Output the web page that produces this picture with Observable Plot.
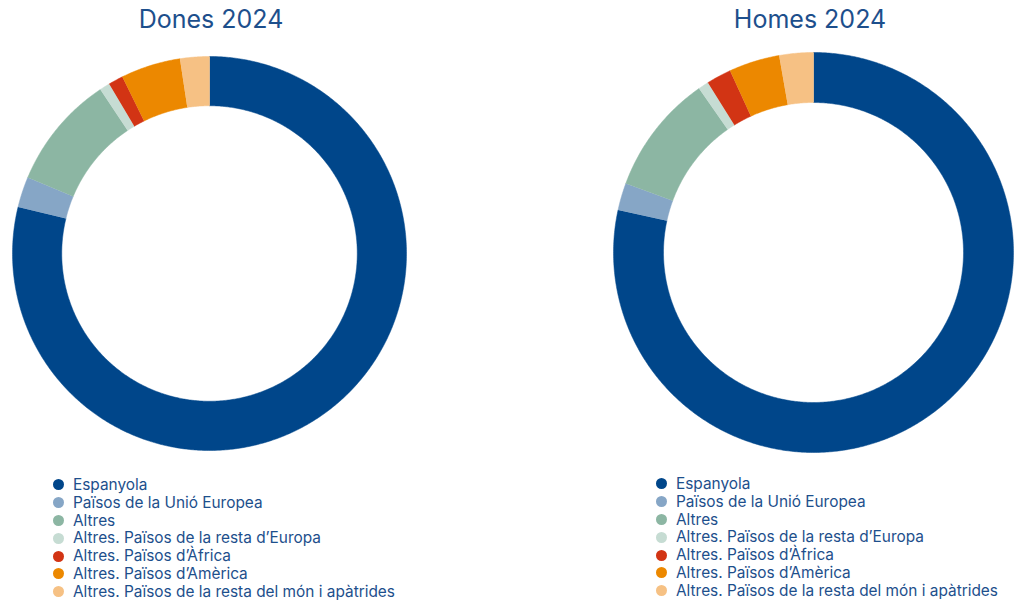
<!DOCTYPE html>
<html>
<head>
<meta charset="utf-8">
<script src="https://cdn.jsdelivr.net/npm/d3@7"></script>
<script src="https://cdn.jsdelivr.net/npm/@observablehq/plot@0.6"></script>
<style>
  html, body { margin: 0; padding: 0; background: #fff; }
  #root { position: relative; width: 1024px; height: 600px; overflow: hidden; font-family: Inter, "Noto Sans", sans-serif; color: #1d4f8c; }
  .title { position: absolute; top: 4px; width: 400px; text-align: center; font-size: 25px; font-weight: 400; color: #1d4f8c; }
  .chart { position: absolute; }
  .legend { position: absolute; font-size: 15.4px; line-height: 17.8px; color: #1d4f8c; }
  .legend div { display: flex; align-items: center; white-space: nowrap; }
  .legend span.dot { display: inline-block; width: 11px; height: 11px; border-radius: 50%; margin-right: 9px; }
</style>
</head>
<body>
<div id="root"></div>
<script>
// ---- data ----
const categories = [
  "Espanyola",
  "Països de la Unió Europea",
  "Altres",
  "Altres. Països de la resta d’Europa",
  "Altres. Països d’Àfrica",
  "Altres. Països d’Amèrica",
  "Altres. Països de la resta del món i apàtrides"
];
const colors = ["#00468a", "#86a6c6", "#8cb6a3", "#c6dcd3", "#d23414", "#ec8800", "#f6c184"];
const titles = ["Dones 2024", "Homes 2024"];
const dones2024 = [78.8, 2.5, 9.35, 0.85, 1.2, 4.9, 2.4];
const homes2024 = [78.4, 2.2, 9.7, 0.85, 2.0, 4.1, 2.75];

// ---- build ring polygons (angle clockwise from 12 o'clock) ----
function ringRows(values, inner) {
  const total = d3.sum(values);
  const rows = [];
  let start = 0;
  values.forEach((v, i) => {
    const a0 = start / total * 2 * Math.PI;
    const a1 = (start + v) / total * 2 * Math.PI;
    const n = Math.max(2, Math.ceil((a1 - a0) / (Math.PI / 360)));
    const pts = [];
    for (let k = 0; k <= n; k++) { const a = a0 + (a1 - a0) * k / n; pts.push([Math.sin(a), Math.cos(a)]); }
    for (let k = n; k >= 0; k--) { const a = a0 + (a1 - a0) * k / n; pts.push([inner * Math.sin(a), inner * Math.cos(a)]); }
    pts.forEach(([x, y], j) => rows.push({cat: categories[i], x, y, j}));
    start += v;
  });
  return rows;
}

const root = document.getElementById("root");
const panels = [
  {values: dones2024, title: titles[0], cx: 209, cy: 253, r: 197, titleX: 211, legendX: 53, legendY: 476},
  {values: homes2024, title: titles[1], cx: 813, cy: 252, r: 200, titleX: 810, legendX: 656, legendY: 475}
];
const size = 404;
panels.forEach(p => {
  const t = document.createElement("div");
  t.className = "title";
  t.style.left = (p.titleX - 200) + "px";
  t.textContent = p.title;
  root.appendChild(t);

  const ext = (size / 2) / p.r;
  const chart = Plot.plot({
    width: size, height: size,
    margin: 0,
    x: {domain: [-ext, ext], axis: null},
    y: {domain: [-ext, ext], axis: null},
    color: {domain: categories, range: colors},
    marks: [
      Plot.line(ringRows(p.values, 0.75), {x: "x", y: "y", z: "cat", fill: "cat", stroke: "cat", strokeWidth: 0.5, curve: "linear"})
    ]
  });
  const wrap = document.createElement("div");
  wrap.className = "chart";
  wrap.style.left = (p.cx - size / 2) + "px";
  wrap.style.top = (p.cy - size / 2) + "px";
  wrap.appendChild(chart);
  root.appendChild(wrap);

  const lg = document.createElement("div");
  lg.className = "legend";
  lg.style.left = p.legendX + "px";
  lg.style.top = p.legendY + "px";
  categories.forEach((c, i) => {
    const row = document.createElement("div");
    const dot = document.createElement("span");
    dot.className = "dot";
    dot.style.background = colors[i];
    row.appendChild(dot);
    row.appendChild(document.createTextNode(c));
    lg.appendChild(row);
  });
  root.appendChild(lg);
});
</script>
</body>
</html>
